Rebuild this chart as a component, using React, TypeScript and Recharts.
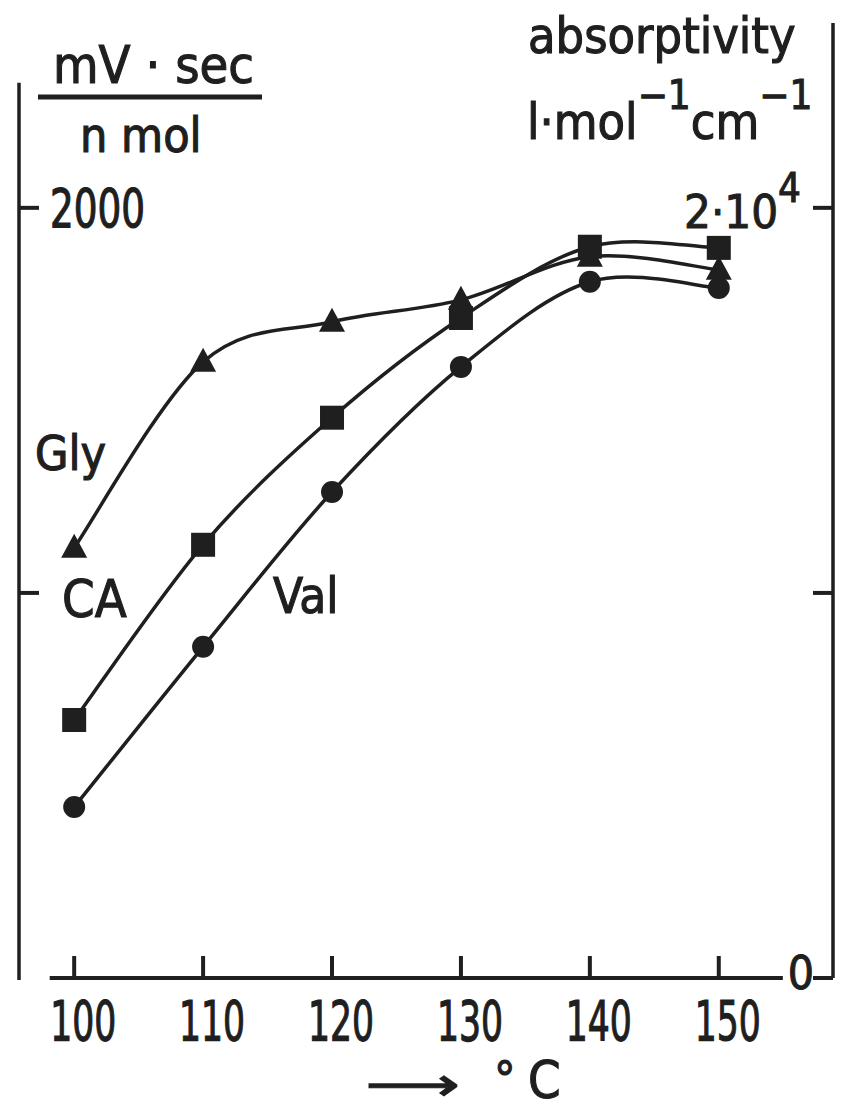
import { LineChart, Line, XAxis, YAxis, ReferenceLine } from 'recharts';

// temperature (°C) and peak response per amino acid
const temps = [100, 110, 120, 130, 140, 150];
const gly = [1117, 1600, 1704, 1761, 1873, 1839];
const ca = [670, 1125, 1455, 1714, 1899, 1896];
const val = [444, 860, 1262, 1587, 1808, 1792];

const leftTicks = [1000, 2000];
const rightTicks = [0, 1000, 2000];

const data = temps.map((t, i) => ({ t, gly: gly[i], ca: ca[i], val: val[i] }));

const INK = '#1f1f1f';
const COND = '"DejaVu Sans Condensed", "DejaVu Sans", sans-serif';
const NARROW = '"Liberation Sans Narrow", "DejaVu Sans Condensed", sans-serif';

const X_MIN = 95.72;
const X_MAX = 158.86;
const Y_MAX = 2480;

// hand-drawn look: Catmull-Rom spline through the points (d3 curve interface)
function smoothCurve(context: any) {
    let pts: number[][] = [];
    return {
        areaStart() {},
        areaEnd() {},
        lineStart() {
            pts = [];
        },
        point(x: number, y: number) {
            pts.push([x, y]);
        },
        lineEnd() {
            if (!pts.length) return;
            context.moveTo(pts[0][0], pts[0][1]);
            for (let i = 0; i < pts.length - 1; i++) {
                const p0 = pts[i - 1] || pts[i];
                const p1 = pts[i];
                const p2 = pts[i + 1];
                const p3 = pts[i + 2] || p2;
                const k = 1 / 6;
                context.bezierCurveTo(
                    p1[0] + (p2[0] - p0[0]) * k,
                    p1[1] + (p2[1] - p0[1]) * k,
                    p2[0] - (p3[0] - p1[0]) * k,
                    p2[1] - (p3[1] - p1[1]) * k,
                    p2[0],
                    p2[1]
                );
            }
        },
    };
}

const Triangle = (p: any) => {
    const { cx, cy, index } = p;
    if (cx == null || cy == null) return <g key={index} />;
    return (
        <polygon
            key={index}
            points={`${cx},${cy - 14} ${cx + 13},${cy + 10} ${cx - 13},${cy + 10}`}
            fill={INK}
        />
    );
};

const Square = (p: any) => {
    const { cx, cy, index } = p;
    if (cx == null || cy == null) return <g key={index} />;
    return <rect key={index} x={cx - 12} y={cy - 12} width={24} height={24} fill={INK} />;
};

const Dot = (p: any) => {
    const { cx, cy, index } = p;
    if (cx == null || cy == null) return <g key={index} />;
    return <circle key={index} cx={cx} cy={cy} r={11} fill={INK} />;
};

const XTick = ({ x, y, payload }: any) => (
    <g>
        <line x1={x} x2={x} y1={y} y2={y - 22} stroke={INK} strokeWidth={4} />
        <text
            x={x + 9}
            y={y + 62}
            textAnchor="middle"
            fontFamily={NARROW}
            fontSize={56}
            textLength={String(payload.value).length * 22}
            lengthAdjust="spacingAndGlyphs"
            fill={INK}
            stroke={INK}
            strokeWidth={1.2}
        >
            {payload.value}
        </text>
    </g>
);

const LeftTick = ({ x, y, payload }: any) => {
    if (payload.value !== 2000) return <g />;
    return (
        <text
            x={x + 5}
            y={y + 19}
            textAnchor="start"
            fontFamily={NARROW}
            fontSize={53}
            textLength={95}
            lengthAdjust="spacingAndGlyphs"
            fill={INK}
            stroke={INK}
            strokeWidth={1.2}
        >
            2000
        </text>
    );
};

const RightTick = ({ x, y, payload }: any) => {
    if (payload.value === 2000) {
        return (
            <text x={x} y={y + 20} textAnchor="end" fontFamily={COND} fontSize={47} fill={INK} stroke={INK} strokeWidth={1}>
                2·10
                <tspan dy={-26} fontSize={40}>4</tspan>
            </text>
        );
    }
    if (payload.value === 0) {
        return (
            <text x={x + 13} y={y + 11} textAnchor="end" fontFamily={NARROW} fontSize={46} fill={INK} stroke={INK} strokeWidth={1}>
                0
            </text>
        );
    }
    return <g />;
};

export default function App() {
    return (
        <div style={{ position: 'absolute', left: 0, top: 0, width: 845, height: 1111, background: '#fff' }}>
            <LineChart
                width={845}
                height={1111}
                data={data}
                margin={{ top: 23, right: 12, bottom: 31, left: 19 }}
            >
                <XAxis
                    dataKey="t"
                    type="number"
                    domain={[X_MIN, X_MAX]}
                    ticks={temps}
                    axisLine={false}
                    tickLine={false}
                    tickSize={0}
                    tickMargin={0}
                    height={102}
                    tick={<XTick />}
                />
                <YAxis
                    yAxisId="left"
                    orientation="left"
                    mirror
                    width={1}
                    type="number"
                    domain={[0, Y_MAX]}
                    ticks={leftTicks}
                    axisLine={false}
                    tickSize={20}
                    tickMargin={6}
                    tickLine={{ stroke: INK, strokeWidth: 4 }}
                    tick={<LeftTick />}
                />
                <YAxis
                    yAxisId="right"
                    orientation="right"
                    mirror
                    width={1}
                    type="number"
                    domain={[0, Y_MAX]}
                    allowDataOverflow
                    ticks={rightTicks}
                    axisLine={{ stroke: INK, strokeWidth: 3.5 }}
                    tickSize={20}
                    tickMargin={12}
                    tickLine={{ stroke: INK, strokeWidth: 4 }}
                    tick={<RightTick />}
                />
                <ReferenceLine
                    yAxisId="left"
                    segment={[{ x: X_MIN, y: 2325 }, { x: X_MIN, y: -5 }]}
                    stroke={INK}
                    strokeWidth={3.5}
                    ifOverflow="visible"
                />
                <ReferenceLine
                    yAxisId="left"
                    segment={[{ x: 98.1, y: 0 }, { x: 154.97, y: 0 }]}
                    stroke={INK}
                    strokeWidth={4}
                    ifOverflow="visible"
                />
                <Line
                    yAxisId="left"
                    type={smoothCurve as any}
                    dataKey="gly"
                    stroke={INK}
                    strokeWidth={3.5}
                    dot={Triangle}
                    isAnimationActive={false}
                />
                <Line
                    yAxisId="left"
                    type={smoothCurve as any}
                    dataKey="ca"
                    stroke={INK}
                    strokeWidth={3.5}
                    dot={Square}
                    isAnimationActive={false}
                />
                <Line
                    yAxisId="left"
                    type={smoothCurve as any}
                    dataKey="val"
                    stroke={INK}
                    strokeWidth={3.5}
                    dot={Dot}
                    isAnimationActive={false}
                />
            </LineChart>
            <svg
                width={845}
                height={1111}
                style={{ position: 'absolute', left: 0, top: 0, pointerEvents: 'none' }}
            >
                <g fill={INK} stroke={INK} strokeWidth={1.1}>
                    <text x={53} y={83} fontFamily={COND} fontSize={52}>mV · sec</text>
                    <line x1={38} x2={262} y1={97} y2={97} strokeWidth={5} />
                    <text x={80} y={152} fontFamily={COND} fontSize={48}>n mol</text>
                    <text x={528} y={53} fontFamily={COND} fontSize={50}>absorptivity</text>
                    <text x={527} y={139} fontFamily={COND} fontSize={50}>
                        l·mol
                        <tspan dy={-30} fontSize={40}>−1</tspan>
                        <tspan dy={30}>cm</tspan>
                        <tspan dy={-30} fontSize={40}>−1</tspan>
                    </text>
                    <text x={35} y={470} fontFamily={COND} fontSize={48}>Gly</text>
                    <text x={62} y={617} fontFamily={COND} fontSize={52}>CA</text>
                    <text x={273} y={613} fontFamily={COND} fontSize={49}>Val</text>
                    <text
                        x={366}
                        y={1100}
                        fontFamily={COND}
                        fontSize={46}
                        textLength={94}
                        lengthAdjust="spacingAndGlyphs"
                    >
                        ⟶
                    </text>
                    <text x={494} y={1096} fontFamily={COND} fontSize={48}>°</text>
                    <text x={528} y={1098} fontFamily={NARROW} fontSize={52}>C</text>
                </g>
            </svg>
        </div>
    );
}
